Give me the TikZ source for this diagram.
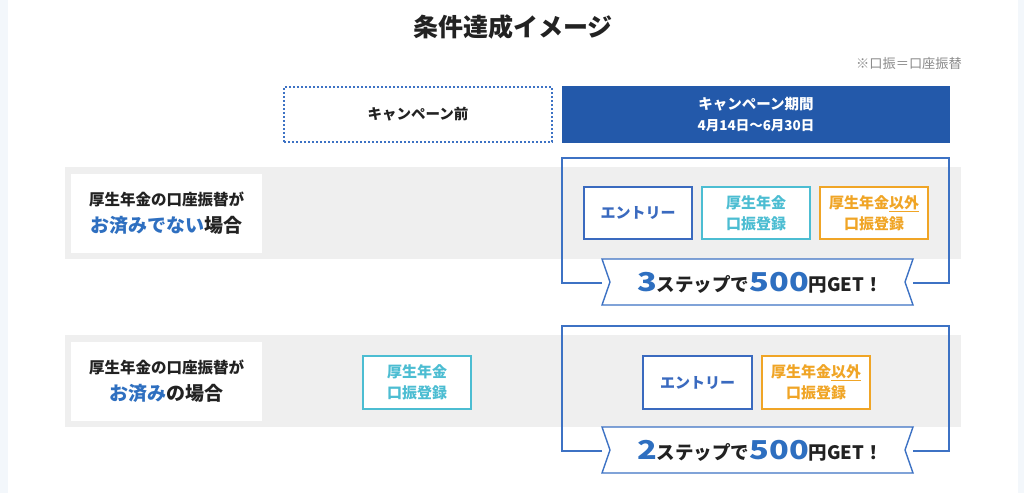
\documentclass[tikz,border=0pt]{standalone}
\usepackage{fontspec}
\setmainfont{Noto Sans CJK JP}
\usepackage{graphicx}
\newcommand\myfs[1]{\fontsize{#1}{#1}\selectfont}
\definecolor{bgblue}{HTML}{F3F7FB}
\definecolor{hdrblue}{HTML}{2359AA}
\definecolor{frameblue}{HTML}{3D72C4}
\definecolor{entryblue}{HTML}{3A6ABF}
\definecolor{stepcyan}{HTML}{4CBDD2}
\definecolor{steporange}{HTML}{F0A526}
\definecolor{bandgray}{HTML}{EFEFEF}
\definecolor{textdark}{HTML}{222222}
\definecolor{notegray}{HTML}{8A8A8A}
\definecolor{labelblue}{HTML}{2E6FC0}
\tikzset{
  stepbox/.style={draw, line width=1.6pt, fill=white, minimum width=108.5pt, minimum height=52.5pt, inner sep=0pt, align=center, font=\bfseries\fontsize{15}{21}\selectfont},
  entrybox/.style={stepbox, draw=entryblue, text=entryblue},
  cyanbox/.style={stepbox, draw=stepcyan, text=stepcyan},
  orangebox/.style={stepbox, draw=steporange, text=steporange},
  labelbox/.style={fill=white, minimum width=191pt, minimum height=79pt, inner sep=0pt, align=center, text=textdark, font=\bfseries\fontsize{19}{27}\selectfont},
  band/.style={fill=bandgray},
  framepath/.style={draw=frameblue, line width=1.4pt},
  ribbontext/.style={text=textdark, font=\bfseries\myfs{18.5}, inner sep=0pt},
}
\begin{document}
\begin{tikzpicture}[x=1pt,y=-1pt]
\useasboundingbox (0,0) rectangle (1024,493);
\fill[bgblue] (0,0) rectangle (1024,493);
\fill[white] (8,0) rectangle (1018,493);

% title and note
\node[text=textdark, font=\bfseries\myfs{25}] (title) at (513,27) {条件達成イメージ};
\node[text=notegray, font=\myfs{13.2}, anchor=east, inner sep=0pt] (note) at (962,63) {※口振＝口座振替};

% header boxes
\node[draw=frameblue, line width=1.6pt, dash pattern=on 2pt off 2pt, minimum width=268pt, minimum height=55pt, inner sep=0pt, text=textdark, font=\bfseries\myfs{14.5}] (before) at (418,114.5) {キャンペーン前};
\node[fill=hdrblue, minimum width=388pt, minimum height=57pt, inner sep=0pt, text=white, align=center, font=\bfseries\fontsize{14.5}{21}\selectfont] (during) at (756,114.5) {キャンペーン期間\\{\myfs{13.5}4月14日〜6月30日}};

% row bands
\fill[band] (65,167) rectangle (961,259);
\fill[band] (65,335) rectangle (961,427);

% row labels
\node[labelbox] (lab1) at (166.5,213.5) {{\myfs{15.5}厚生年金の口座振替が}\\{\color{labelblue}お済みでない}場合};
\node[labelbox] (lab2) at (166.5,381.5) {{\myfs{15.5}厚生年金の口座振替が}\\{\color{labelblue}お済み}の場合};

% row 1 frame and ribbon
\coordinate (f1a) at (602,283);
\coordinate (f1b) at (913,283);
\draw[framepath] (f1a) -- (562,283) -- (562,158) -- (949,158) -- (949,283) -- (f1b);
\draw[framepath, fill=white] (602,259) -- (913,259) -- (905,282) -- (913,305) -- (602,305) -- (610,282) -- cycle;
\node[ribbontext] (rib1) at (760,283) {{\color{labelblue}\myfs{26}\scalebox{1.25}[1]{3}}ステップで{\color{labelblue}\myfs{26}\scalebox{1.25}[1]{500}}円GET！};

% row 1 steps
\node[entrybox] (e1) at (638,213) {エントリー};
\node[cyanbox] (c1) at (756,213) {厚生年金\\口振登録};
\node[orangebox] (o1) at (874,213) {厚生年金\underline{以外}\\口振登録};

% row 2 frame and ribbon
\coordinate (f2a) at (602,451);
\coordinate (f2b) at (913,451);
\draw[framepath] (f2a) -- (562,451) -- (562,326) -- (949,326) -- (949,451) -- (f2b);
\draw[framepath, fill=white] (602,427) -- (913,427) -- (905,450) -- (913,473) -- (602,473) -- (610,450) -- cycle;
\node[ribbontext] (rib2) at (760,451) {{\color{labelblue}\myfs{26}\scalebox{1.25}[1]{2}}ステップで{\color{labelblue}\myfs{26}\scalebox{1.25}[1]{500}}円GET！};

% row 2 steps
\node[cyanbox] (c2) at (417,382.5) {厚生年金\\口振登録};
\node[entrybox] (e2) at (697.5,382.5) {エントリー};
\node[orangebox] (o2) at (816,382.5) {厚生年金\underline{以外}\\口振登録};
\end{tikzpicture}
\end{document}
